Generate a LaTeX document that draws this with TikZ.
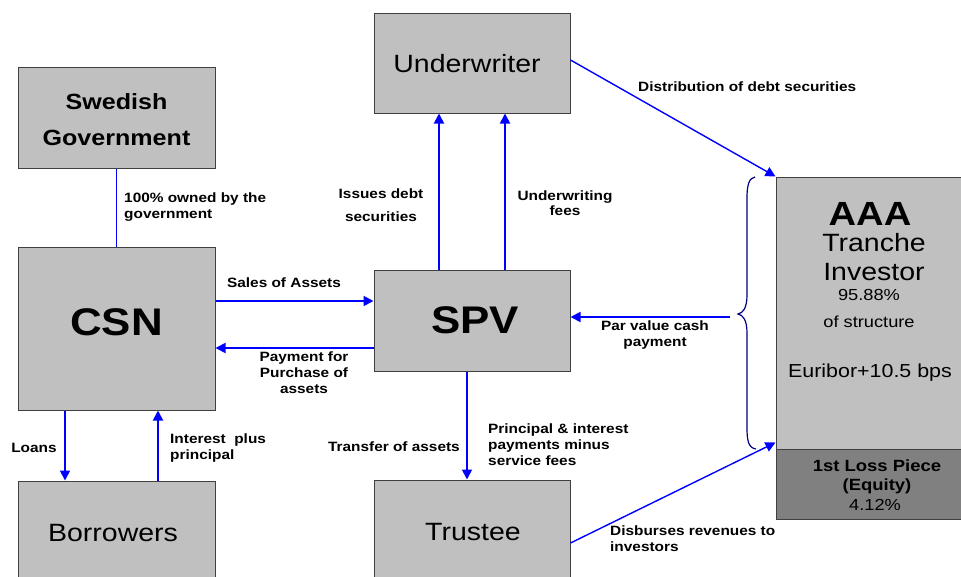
\documentclass[tikz,border=0pt]{standalone}
\usepackage{fontspec}
\setmainfont[FakeStretch=1.14]{Liberation Sans}
\usetikzlibrary{arrows.meta}
\definecolor{boxgray}{HTML}{C0C0C0}
\definecolor{lossgray}{HTML}{808080}
\definecolor{edgegray}{HTML}{404040}
\definecolor{arrblue}{HTML}{0000FF}
\definecolor{bracenavy}{HTML}{000080}
\tikzset{
  box/.style={draw=edgegray, line width=1pt, fill=boxgray, inner sep=0pt},
  arr/.style={draw=arrblue, line width=1.8pt, -{Triangle[length=10pt,width=10pt]}},
  lbl/.style={font=\fontsize{13.5}{16}\selectfont\bfseries, inner sep=0pt},
  big/.style={font=\fontsize{25}{30}\selectfont, inner sep=0pt},
}
\begin{document}
\begin{tikzpicture}[x=1pt,y=-1pt]
\useasboundingbox (0,0) rectangle (961,576);
\clip (0,0) rectangle (961,576);
% boxes
\node[box, minimum width=197pt, minimum height=101pt] (gov) at (116.5,117.5) {};
\node[box, minimum width=197pt, minimum height=163pt] (csn) at (116.5,328.5) {};
\node[box, minimum width=197pt, minimum height=120pt] (bor) at (116.5,541) {};
\node[box, minimum width=196pt, minimum height=100pt] (und) at (472,63) {};
\node[box, minimum width=196pt, minimum height=101pt] (spv) at (472,320.5) {};
\node[box, minimum width=196pt, minimum height=120pt] (tru) at (472,540) {};
\node[box, minimum width=199pt, minimum height=272pt] (aaa) at (875.5,313) {};
\node[box, fill=lossgray, minimum width=199pt, minimum height=70pt] (loss) at (875.5,484) {};
% box texts
\node[inner sep=0pt, font=\fontsize{22}{36}\selectfont\bfseries, align=center] (govt) at (116.5,120) {Swedish\\Government};
\node[inner sep=0pt, font=\fontsize{38.5}{48}\selectfont\bfseries] (csnt) at (116.5,322) {CSN};
\node[inner sep=0pt, font=\fontsize{38.5}{48}\selectfont\bfseries] (spvt) at (475,320) {SPV};
\node[big] (bort) at (113,533) {Borrowers};
\node[big] (undt) at (467,64) {Underwriter};
\node[big] (trut) at (473,532) {Trustee};
\node[inner sep=0pt, font=\fontsize{33.5}{36}\selectfont\bfseries] (aaat) at (870,214) {AAA};
\node[inner sep=0pt, font=\fontsize{25}{29}\selectfont, align=center] (trt) at (874,257) {Tranche\\Investor};
\node[inner sep=0pt, font=\fontsize{16}{18}\selectfont] (pct) at (869,295) {95.88\%};
\node[inner sep=0pt, font=\fontsize{16}{18}\selectfont] (ost) at (869,322) {of structure};
\node[inner sep=0pt, font=\fontsize{18.8}{20}\selectfont] (eur) at (870,373) {Euribor+10.5 bps};
\node[inner sep=0pt, font=\fontsize{16.2}{19.5}\selectfont\bfseries, align=center] (losst) at (877,477) {1st Loss Piece\\(Equity)};
\node[inner sep=0pt, font=\fontsize{16}{18}\selectfont] (losspct) at (875,505) {4.12\%};
% connectors
\draw[arrblue, line width=0.8pt] (gov.south) -- (csn.north);
\draw[arr] (csn.east |- 0,301) -- (spv.west |- 0,301);
\draw[arr] (spv.west |- 0,348) -- (csn.east |- 0,348);
\draw[arr] (csn.south -| 65,0) -- (bor.north -| 65,0);
\draw[arr] (bor.north -| 158,0) -- (csn.south -| 158,0);
\draw[arr] (spv.north -| 439,0) -- (und.south -| 439,0);
\draw[arr] (spv.north -| 505,0) -- (und.south -| 505,0);
\draw[arr] (spv.south -| 467,0) -- (tru.north -| 467,0);
\draw[arr, line width=1.4pt] (und.east |- 0,60) -- (aaa.north west);
\draw[arr, line width=1.4pt] (tru.east |- 0,543) -- ([yshift=7pt]aaa.south west);
\coordinate (bracetip) at (730,317);
\draw[arr] (bracetip) -- (spv.east |- bracetip);
% brace
\draw[bracenavy, line width=1.2pt] (755,177) .. controls (749,178) and (747,185) .. (747,198) -- (747,295) .. controls (747,308) and (743,313) .. (738,314) .. controls (743,315) and (747,320) .. (747,333) -- (747,428) .. controls (747,442) and (749,448) .. (756,449);
% labels
\node[lbl, anchor=north west, align=left] (l1) at (124,193) {100\% owned by the\\government};
\node[lbl] (l2) at (284,283) {Sales of Assets};
\node[lbl, anchor=north, align=center] (l3) at (304,352) {Payment for\\Purchase of\\assets};
\node[lbl] (l4) at (34,448) {Loans};
\node[lbl, anchor=north west, align=left] (l5) at (170,434) {Interest~ plus\\principal};
\node[lbl, anchor=north, align=center, font=\fontsize{13.5}{23}\selectfont\bfseries] (l6) at (381,189) {Issues debt\\securities};
\node[lbl, anchor=north, align=center, font=\fontsize{13.5}{15}\selectfont\bfseries] (l7) at (565,191) {Underwriting\\fees};
\node[lbl, anchor=west] (l8) at (638,87) {Distribution of debt securities};
\node[lbl, anchor=north, align=center] (l9) at (655,321) {Par value cash\\payment};
\node[lbl, anchor=east] (l10) at (460,447) {Transfer of assets};
\node[lbl, anchor=north west, align=left] (l11) at (488,424) {Principal \& interest\\payments minus\\service fees};
\node[lbl, anchor=north west, align=left] (l12) at (610,526) {Disburses revenues to\\investors};
\end{tikzpicture}
\end{document}
